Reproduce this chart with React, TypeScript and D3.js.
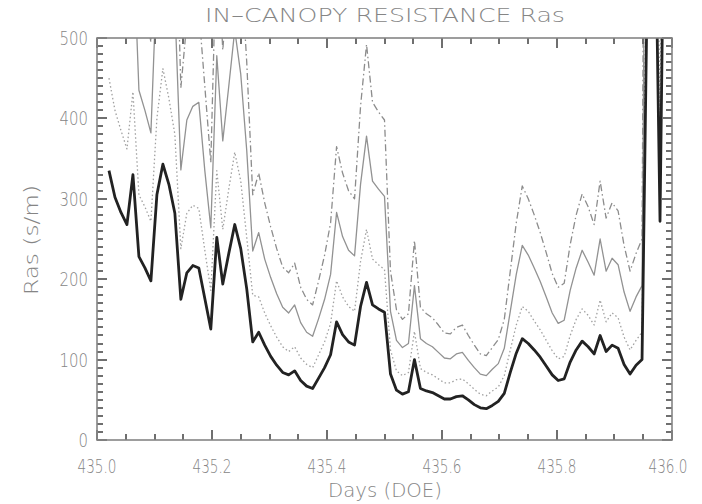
import { useEffect, useRef } from 'react';
import * as d3 from 'd3';

// 15-minute samples, day-of-experiment 435.02 .. 435.99
const days = d3.range(2, 96).map(i => 435 + i / 96);

// Ras (s/m) for the four runs
const rasThick = [
  335, 302, 283, 268, 330, 228, 214, 198, 305, 343,
  318, 282, 175, 208, 217, 214, 176, 138, 252, 194,
  232, 268, 238, 188, 122, 134, 118, 104, 93, 84,
  81, 86, 74, 67, 64, 77, 90, 106, 147, 131,
  122, 118, 166, 196, 168, 163, 159, 82, 62, 57,
  60, 100, 64, 61, 59, 55, 51, 51, 54, 55,
  50, 44, 40, 39, 43, 48, 58, 84, 108, 126,
  120, 112, 103, 92, 81, 74, 76, 97, 112, 123,
  116, 107, 130, 110, 118, 114, 94, 82, 93, 100,
  640, 760, 272, 900,
];
const rasDot = [
  450, 410, 385, 362, 433, 305, 290, 272, 400, 462,
  425, 380, 238, 282, 292, 288, 236, 186, 335, 262,
  312, 358, 322, 252, 180, 178, 158, 142, 128, 116,
  110, 116, 102, 94, 90, 106, 122, 145, 198, 178,
  166, 160, 222, 262, 225, 218, 212, 112, 86, 80,
  84, 135, 89, 84, 81, 76, 71, 71, 75, 76,
  70, 63, 57, 55, 61, 66, 80, 112, 143, 166,
  160, 148, 137, 124, 111, 101, 104, 130, 150, 163,
  155, 143, 174, 147, 158, 152, 128, 112, 124, 134,
  820, 980, 400, 1100,
];
const rasSolid = [
  640, 575, 540, 510, 630, 435, 410, 382, 580, 655,
  605, 540, 336, 398, 415, 420, 335, 264, 478, 372,
  440, 510, 455, 360, 235, 258, 225, 202, 182, 165,
  158, 168, 146, 134, 129, 151, 175, 206, 283, 253,
  236, 229, 318, 378, 322, 312, 303, 160, 124, 115,
  120, 192, 126, 120, 116, 109, 102, 101, 107, 109,
  99, 90, 82, 80, 88, 95, 114, 160, 206, 242,
  230, 214, 197, 178, 158, 145, 149, 186, 214, 236,
  221, 205, 250, 210, 226, 218, 184, 160, 178, 192,
  1200, 1450, 520, 1700,
];
const rasDashDot = [
  840, 755, 708, 670, 825, 570, 535, 495, 762, 858,
  795, 705, 438, 520, 542, 535, 440, 345, 630, 485,
  580, 670, 595, 470, 305, 332, 295, 265, 238, 215,
  208, 220, 190, 175, 168, 198, 230, 270, 365, 332,
  310, 300, 415, 492, 420, 408, 398, 210, 162, 150,
  157, 248, 165, 157, 152, 143, 133, 132, 140, 143,
  130, 118, 107, 105, 115, 125, 150, 210, 270, 316,
  300, 280, 258, 233, 207, 190, 195, 243, 280, 306,
  290, 268, 322, 276, 295, 285, 242, 210, 232, 250,
  1600, 1900, 680, 2200,
];

const xTicks = [435.0, 435.2, 435.4, 435.6, 435.8, 436.0];
const yTicks = [0, 100, 200, 300, 400, 500];

const GREY = '#858585';
const FONT = '"DejaVu Sans", sans-serif';

export default function App() {
  const ref = useRef(null);

  useEffect(() => {
    const svg = d3.select(ref.current);
    svg.selectAll('*').remove();

    const left = 97, right = 672, top = 38, bottom = 440;
    const x = d3.scaleLinear().domain([435, 436]).range([left, right]);
    const y = d3.scaleLinear().domain([0, 500]).range([bottom, top]);

    svg.append('rect').attr('width', 702).attr('height', 504).attr('fill', '#fff');

    svg.append('defs').append('clipPath').attr('id', 'plotclip')
      .append('rect')
      .attr('x', left).attr('y', top)
      .attr('width', right - left).attr('height', bottom - top);

    // series
    const line = d3.line()
      .x((d, i) => x(days[i]))
      .y(d => y(d));

    const series = [
      { data: rasDashDot, color: '#8c8c8c', width: 1.3, dash: '7,3,1.5,3' },
      { data: rasSolid, color: '#929292', width: 1.3, dash: null },
      { data: rasDot, color: '#a0a0a0', width: 1.3, dash: '1.5,2.5' },
      { data: rasThick, color: '#222', width: 2.8, dash: null },
    ];
    const lines = svg.append('g').attr('clip-path', 'url(#plotclip)');
    series.forEach(s => {
      lines.append('path')
        .attr('d', line(s.data))
        .attr('fill', 'none')
        .attr('stroke', s.color)
        .attr('stroke-width', s.width)
        .attr('stroke-dasharray', s.dash)
        .attr('stroke-linejoin', 'round');
    });

    // inward ticks on all four sides (minor + major), drawn as thin filled rects
    const xMinor = d3.range(0, 21).map(i => 435 + i * 0.05);
    const yMinor = d3.range(0, 51).map(i => i * 10);
    const tg = svg.append('g').attr('fill', '#6f6f6f');
    const addX = (vals, len) => vals.forEach(v => {
      const px = Math.round(x(v)) - 1;
      tg.append('rect').attr('x', px).attr('y', bottom - len).attr('width', 2).attr('height', len);
      tg.append('rect').attr('x', px).attr('y', top).attr('width', 2).attr('height', len);
    });
    const addY = (vals, len) => vals.forEach(v => {
      const py = Math.round(y(v)) - 1;
      tg.append('rect').attr('x', left).attr('y', py).attr('width', len).attr('height', 2);
      tg.append('rect').attr('x', right - len).attr('y', py).attr('width', len).attr('height', 2);
    });
    addX(xMinor, 6);
    addX(xTicks, 10);
    addY(yMinor, 6);
    addY(yTicks, 10);

    svg.append('rect')
      .attr('x', left).attr('y', top)
      .attr('width', right - left).attr('height', bottom - top)
      .attr('fill', 'none').attr('stroke', GREY).attr('stroke-width', 1.6);

    const text = (s, tx, ty, size, len, anchor = 'middle') =>
      svg.append('text')
        .attr('x', tx).attr('y', ty)
        .attr('font-family', FONT).attr('font-size', size)
        .attr('font-weight', 200)
        .attr('fill', GREY)
        .attr('text-anchor', anchor)
        .attr('textLength', len)
        .attr('lengthAdjust', 'spacingAndGlyphs')
        .text(s);

    xTicks.forEach(v => text(d3.format('.1f')(v), Math.min(x(v), 668), 473, 19, 39));
    yTicks.forEach(v => text(String(v), 88, y(v) + 7, 19, String(v).length * 9.5, 'end'));

    text('IN\u2013CANOPY RESISTANCE Ras', 385, 22, 20, 360);
    text('Days (DOE)', 385, 497, 19, 114);
    text('Ras (s/m)', 0, 0, 19, 110)
      .attr('transform', 'translate(38,240) rotate(-90)');
  }, []);

  return (
    <svg
      ref={ref}
      width={702}
      height={504}
      style={{ position: 'absolute', left: 0, top: 0 }}
    />
  );
}
